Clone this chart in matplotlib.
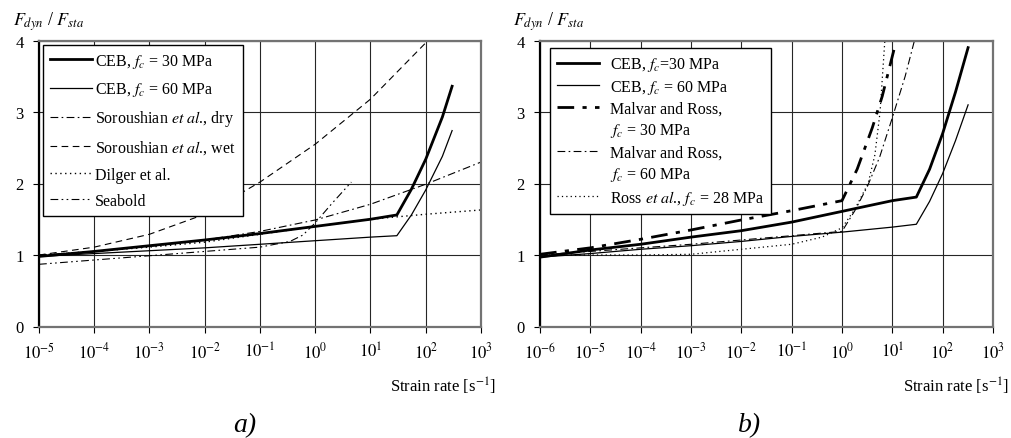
import numpy as np
import matplotlib
matplotlib.use('Agg')
import matplotlib.pyplot as plt
from matplotlib.lines import Line2D

plt.rcParams['font.family'] = ['Liberation Serif', 'DejaVu Serif']
plt.rcParams['mathtext.fontset'] = 'stix'

# ---- panel a) ----
a_ticks = [1e-5, 1e-4, 1e-3, 1e-2, 1e-1, 1e0, 1e1, 1e2, 1e3]
a_ticklabels = [r'$10^{-5}$', r'$10^{-4}$', r'$10^{-3}$', r'$10^{-2}$', r'$10^{-1}$',
                r'$10^{0}$', r'$10^{1}$', r'$10^{2}$', r'$10^{3}$']

a_ceb_rate = [1e-5, 1e-4, 1e-3, 1e-2, 1e-1, 1, 10, 30, 55, 100, 200, 300]
a_ceb30 = [0.98, 1.05, 1.13, 1.21, 1.30, 1.40, 1.50, 1.56, 1.92, 2.34, 2.93, 3.36]
a_ceb60 = [0.98, 1.02, 1.06, 1.10, 1.15, 1.20, 1.25, 1.27, 1.56, 1.91, 2.38, 2.74]

dry_rate = [1e-5, 1e-4, 1e-3, 1e-2, 1e-1, 1, 10, 100, 1000]
dry_val = [1.00, 1.05, 1.12, 1.21, 1.33, 1.49, 1.71, 1.99, 2.30]

wet_rate = [1e-5, 1e-4, 1e-3, 1e-2, 1e-1, 1, 10, 120]
wet_val = [1.00, 1.11, 1.29, 1.57, 2.02, 2.55, 3.18, 4.03]

dilger_rate = [1e-5, 1e-4, 1e-3, 1e-2, 1e-1, 1, 10, 100, 1000]
dilger_val = [1.00, 1.05, 1.11, 1.18, 1.29, 1.40, 1.50, 1.57, 1.63]

seabold_rate = [1e-5, 1e-4, 1e-3, 1e-2, 1e-1, 0.35, 0.6, 1, 2, 4.5]
seabold_val = [0.87, 0.93, 0.99, 1.05, 1.11, 1.19, 1.28, 1.45, 1.72, 2.02]

# ---- panel b) ----
b_ticks = [1e-6] + a_ticks
b_ticklabels = [r'$10^{-6}$'] + a_ticklabels

b_ceb_rate = [1e-6, 1e-5, 1e-4, 1e-3, 1e-2, 1e-1, 1, 10, 30, 55, 100, 180, 320]
b_ceb30 = [0.97, 1.07, 1.15, 1.25, 1.34, 1.46, 1.61, 1.76, 1.81, 2.20, 2.70, 3.28, 3.90]
b_ceb60 = [0.97, 1.02, 1.08, 1.13, 1.19, 1.26, 1.32, 1.39, 1.43, 1.75, 2.14, 2.60, 3.10]

mr30_rate = [1e-6, 1e-5, 1e-4, 1e-3, 1e-2, 1e-1, 1, 2, 4, 6.3, 11.5]
mr30_val = [1.01, 1.10, 1.22, 1.35, 1.49, 1.62, 1.76, 2.20, 2.78, 3.22, 3.95]

mr60_rate = [1e-6, 1e-5, 1e-4, 1e-3, 1e-2, 1e-1, 1, 1.8, 3.2, 5.6, 10, 18, 28]
mr60_val = [1.00, 1.05, 1.10, 1.15, 1.21, 1.27, 1.33, 1.62, 1.96, 2.37, 2.92, 3.50, 4.02]

ross_rate = [1e-6, 1e-5, 1e-4, 1e-3, 1e-2, 1e-1, 0.4, 1, 1.8, 3.3, 4.5, 5.7, 7.1]
ross_val = [1.00, 1.00, 1.00, 1.01, 1.08, 1.15, 1.25, 1.38, 1.64, 2.00, 2.40, 3.00, 4.00]


def style_axes(ax, ticks, ticklabels):
    ax.set_xscale('log')
    ax.set_xlim(ticks[0], ticks[-1])
    ax.set_ylim(0, 4)
    ax.set_xticks(ticks)
    ax.set_xticklabels(ticklabels)
    ax.set_yticks([0, 1, 2, 3, 4])
    ax.minorticks_off()
    ax.grid(True, color='0.15', lw=0.8)
    ax.set_axisbelow(True)
    ax.tick_params(direction='out', length=4, width=0.8, labelsize=12, pad=7)
    for s in ['top', 'right', 'bottom']:
        ax.spines[s].set_color('0.45')
        ax.spines[s].set_linewidth(1.6)
    ax.spines['left'].set_color('black')
    ax.spines['left'].set_linewidth(1.6)


fig = plt.figure(figsize=(10.12, 4.39), dpi=100)
ax1 = fig.add_axes([39 / 1012, 1 - 327.5 / 439, 442 / 1012, 286 / 439])
ax2 = fig.add_axes([540 / 1012, 1 - 327.5 / 439, 453 / 1012, 286 / 439])

ax1.plot(a_ceb_rate, a_ceb30, color='black', lw=2.0, label=r'CEB, $f_c$ = 30 MPa')
ax1.plot(a_ceb_rate, a_ceb60, color='black', lw=0.9, label=r'CEB, $f_c$ = 60 MPa')
ax1.plot(dry_rate, dry_val, color='black', lw=0.8, dashes=(7, 3, 1.5, 3),
         label=r'Soroushian $\mathit{et\ al}$., dry')
ax1.plot(wet_rate, wet_val, color='black', lw=0.8, dashes=(6, 4),
         label=r'Soroushian $\mathit{et\ al}$., wet')
ax1.plot(dilger_rate, dilger_val, color='black', lw=1.0, dashes=(1, 2.5), label='Dilger et al.')
ax1.plot(seabold_rate, seabold_val, color='black', lw=0.8, dashes=(7, 3, 1.5, 3, 1.5, 3),
         label='Seabold')
style_axes(ax1, a_ticks, a_ticklabels)
ax1.legend(loc='upper left', bbox_to_anchor=(0.009, 0.985), fontsize=11.5, frameon=True,
           fancybox=False, edgecolor='black', framealpha=1, handlelength=2.6,
           labelspacing=0.64, borderaxespad=0, handletextpad=0.2, borderpad=0.45)

l1, = ax2.plot(b_ceb_rate, b_ceb30, color='black', lw=2.0)
l2, = ax2.plot(b_ceb_rate, b_ceb60, color='black', lw=0.9)
l3, = ax2.plot(mr30_rate, mr30_val, color='black', lw=2.0, dashes=(6, 3, 1.5, 3))
l4, = ax2.plot(mr60_rate, mr60_val, color='black', lw=0.8, dashes=(7, 3, 1.5, 3))
l5, = ax2.plot(ross_rate, ross_val, color='black', lw=0.9, dashes=(1, 2.5))
blank = Line2D([], [], color='none')
style_axes(ax2, b_ticks, b_ticklabels)
ax2.legend([l1, l2, l3, blank, l4, blank, l5],
           [r'CEB, $f_c$=30 MPa', r'CEB, $f_c$ = 60 MPa', 'Malvar and Ross,', r'$f_c$ = 30 MPa',
            'Malvar and Ross,', r'$f_c$ = 60 MPa', r'Ross $\mathit{et\ al}$., $f_c$ = 28 MPa'],
           loc='upper left', bbox_to_anchor=(0.022, 0.974), fontsize=11.5, frameon=True,
           fancybox=False, edgecolor='black', framealpha=1, handlelength=2.6,
           labelspacing=0.3, borderaxespad=0, handletextpad=0.7, borderpad=0.45)

for ax, xoff in ((ax1, -0.059), (ax2, -0.06)):
    ax.text(xoff, 1.054, r'$F_{dyn}$ / $F_{sta}$', transform=ax.transAxes, fontsize=13,
            ha='left', va='baseline')
    ax.text(1.035, -0.17, r'Strain rate [s$^{-1}$]', transform=ax.transAxes, fontsize=12,
            ha='right', va='top')

fig.text(245 / 1012, 1 - 426 / 439, 'a)', fontsize=20, style='italic', ha='center', va='center')
fig.text(750 / 1012, 1 - 426 / 439, 'b)', fontsize=20, style='italic', ha='center', va='center')

fig.savefig('out.png', dpi=100)
